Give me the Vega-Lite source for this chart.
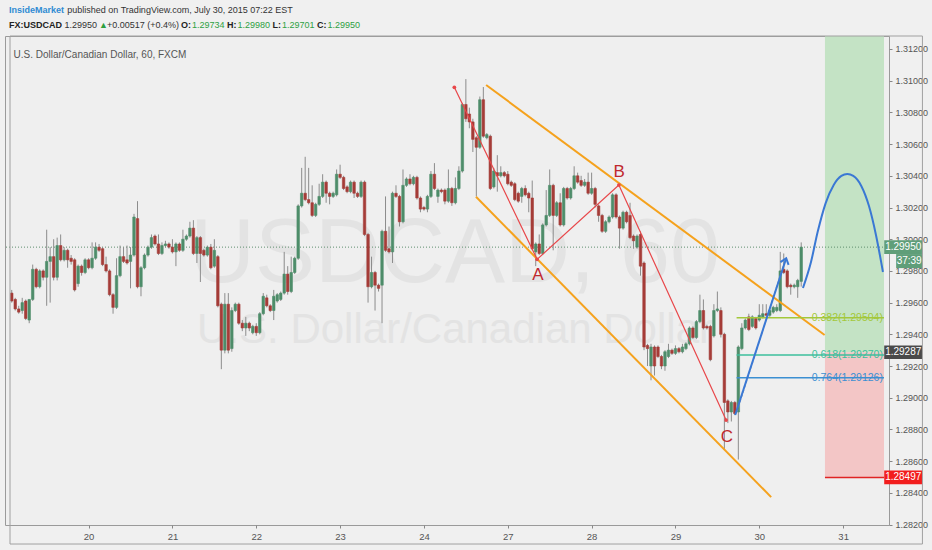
{
  "$schema": "https://vega.github.io/schema/vega-lite/v6.json",
  "description": "USDCAD 60 minute candles, July 17-30 2015, with channel, ABC swing, fib levels and projection",
  "width": 884,
  "height": 489,
  "autosize": {"type": "none"},
  "padding": {"left": 5, "top": 36, "right": 43, "bottom": 25},
  "background": "#f0f0f0",
  "config": {
    "view": {"stroke": "#9a9a9a", "fill": "#efefef"},
    "text": {"font": "Liberation Sans"}
  },
  "data": {"values": [{}]},
  "datasets": {
    "candles": [
      {"i":-22,"o":1.2966,"h":1.2968,"l":1.2960,"c":1.2961},
      {"i":-21,"o":1.2962,"h":1.2963,"l":1.2955,"c":1.2956},
      {"i":-20,"o":1.2956,"h":1.2958,"l":1.2953,"c":1.2954},
      {"i":-19,"o":1.2955,"h":1.2963,"l":1.2953,"c":1.2960},
      {"i":-18,"o":1.2961,"h":1.2962,"l":1.2949,"c":1.2950},
      {"i":-17,"o":1.2949,"h":1.2962,"l":1.2947,"c":1.2962},
      {"i":-16,"o":1.2962,"h":1.2984,"l":1.2961,"c":1.2981},
      {"i":-15,"o":1.2981,"h":1.2982,"l":1.2969,"c":1.2970},
      {"i":-14,"o":1.2970,"h":1.2981,"l":1.2969,"c":1.2980},
      {"i":-13,"o":1.2980,"h":1.2981,"l":1.2974,"c":1.2976},
      {"i":-12,"o":1.2976,"h":1.3006,"l":1.2958,"c":1.2986},
      {"i":-11,"o":1.2986,"h":1.2995,"l":1.2960,"c":1.2989},
      {"i":-10,"o":1.2989,"h":1.3000,"l":1.2974,"c":1.2976},
      {"i":-9,"o":1.2976,"h":1.3001,"l":1.2974,"c":1.2996},
      {"i":-8,"o":1.2996,"h":1.3003,"l":1.2986,"c":1.2987},
      {"i":-7,"o":1.2987,"h":1.2995,"l":1.2986,"c":1.2993},
      {"i":-6,"o":1.2993,"h":1.2994,"l":1.2982,"c":1.2987},
      {"i":-5,"o":1.2988,"h":1.2990,"l":1.2984,"c":1.2986},
      {"i":-4,"o":1.2987,"h":1.2988,"l":1.2967,"c":1.2968},
      {"i":-3,"o":1.2972,"h":1.2984,"l":1.2970,"c":1.2983},
      {"i":-2,"o":1.2983,"h":1.2984,"l":1.2977,"c":1.2979},
      {"i":-1,"o":1.2979,"h":1.2988,"l":1.2978,"c":1.2987},
      {"i":0,"o":1.2987,"h":1.2988,"l":1.2981,"c":1.2982},
      {"i":1,"o":1.2982,"h":1.2998,"l":1.2981,"c":1.2988},
      {"i":2,"o":1.2988,"h":1.2998,"l":1.2987,"c":1.2995},
      {"i":3,"o":1.2995,"h":1.2997,"l":1.2992,"c":1.2993},
      {"i":4,"o":1.2994,"h":1.2995,"l":1.2983,"c":1.2984},
      {"i":5,"o":1.2984,"h":1.2989,"l":1.2979,"c":1.2980},
      {"i":6,"o":1.2980,"h":1.2981,"l":1.2964,"c":1.2965},
      {"i":7,"o":1.2965,"h":1.2966,"l":1.2953,"c":1.2957},
      {"i":8,"o":1.2957,"h":1.2988,"l":1.2956,"c":1.2977},
      {"i":9,"o":1.2977,"h":1.2996,"l":1.2976,"c":1.2989},
      {"i":10,"o":1.2989,"h":1.2995,"l":1.2985,"c":1.2986},
      {"i":11,"o":1.2987,"h":1.2996,"l":1.2984,"c":1.2985},
      {"i":12,"o":1.2986,"h":1.2995,"l":1.2969,"c":1.2990},
      {"i":13,"o":1.2990,"h":1.3016,"l":1.2989,"c":1.3014},
      {"i":14,"o":1.3013,"h":1.3024,"l":1.2969,"c":1.2970},
      {"i":15,"o":1.2970,"h":1.2983,"l":1.2964,"c":1.2982},
      {"i":16,"o":1.2982,"h":1.2991,"l":1.2981,"c":1.2990},
      {"i":17,"o":1.2990,"h":1.2996,"l":1.2989,"c":1.2995},
      {"i":18,"o":1.2995,"h":1.3003,"l":1.2994,"c":1.3001},
      {"i":19,"o":1.3002,"h":1.3003,"l":1.2996,"c":1.2997},
      {"i":20,"o":1.2997,"h":1.3003,"l":1.2990,"c":1.2991},
      {"i":21,"o":1.2991,"h":1.2998,"l":1.2990,"c":1.2996},
      {"i":22,"o":1.2996,"h":1.2999,"l":1.2995,"c":1.2997},
      {"i":23,"o":1.2997,"h":1.2998,"l":1.2994,"c":1.2995},
      {"i":24,"o":1.2995,"h":1.3000,"l":1.2991,"c":1.2992},
      {"i":25,"o":1.2992,"h":1.2998,"l":1.2983,"c":1.2997},
      {"i":26,"o":1.2997,"h":1.2998,"l":1.2992,"c":1.2993},
      {"i":27,"o":1.2993,"h":1.3006,"l":1.2992,"c":1.3000},
      {"i":28,"o":1.3000,"h":1.3003,"l":1.2999,"c":1.3002},
      {"i":29,"o":1.3002,"h":1.3011,"l":1.3001,"c":1.3007},
      {"i":30,"o":1.3007,"h":1.3012,"l":1.2990,"c":1.2991},
      {"i":31,"o":1.2991,"h":1.3002,"l":1.2985,"c":1.3001},
      {"i":32,"o":1.3001,"h":1.3002,"l":1.2973,"c":1.2991},
      {"i":33,"o":1.2993,"h":1.2994,"l":1.2989,"c":1.2990},
      {"i":34,"o":1.2990,"h":1.2996,"l":1.2989,"c":1.2995},
      {"i":35,"o":1.2995,"h":1.2997,"l":1.2981,"c":1.2982},
      {"i":36,"o":1.2983,"h":1.3000,"l":1.2982,"c":1.2993},
      {"i":37,"o":1.2989,"h":1.2990,"l":1.2957,"c":1.2958},
      {"i":38,"o":1.2959,"h":1.2960,"l":1.2918,"c":1.2930},
      {"i":39,"o":1.2930,"h":1.2966,"l":1.2928,"c":1.2959},
      {"i":40,"o":1.2959,"h":1.2966,"l":1.2928,"c":1.2930},
      {"i":41,"o":1.2931,"h":1.2957,"l":1.2929,"c":1.2955},
      {"i":42,"o":1.2955,"h":1.2960,"l":1.2954,"c":1.2959},
      {"i":43,"o":1.2959,"h":1.2960,"l":1.2946,"c":1.2947},
      {"i":44,"o":1.2947,"h":1.2949,"l":1.2942,"c":1.2944},
      {"i":45,"o":1.2944,"h":1.2951,"l":1.2939,"c":1.2947},
      {"i":46,"o":1.2947,"h":1.2948,"l":1.2942,"c":1.2944},
      {"i":47,"o":1.2941,"h":1.2946,"l":1.2940,"c":1.2945},
      {"i":48,"o":1.2945,"h":1.2947,"l":1.2939,"c":1.2941},
      {"i":49,"o":1.2941,"h":1.2954,"l":1.2940,"c":1.2953},
      {"i":50,"o":1.2953,"h":1.2966,"l":1.2952,"c":1.2964},
      {"i":51,"o":1.2963,"h":1.2965,"l":1.2957,"c":1.2958},
      {"i":52,"o":1.2958,"h":1.2959,"l":1.2954,"c":1.2955},
      {"i":53,"o":1.2955,"h":1.2968,"l":1.2949,"c":1.2964},
      {"i":54,"o":1.2961,"h":1.2966,"l":1.2960,"c":1.2965},
      {"i":55,"o":1.2962,"h":1.2967,"l":1.2961,"c":1.2966},
      {"i":56,"o":1.2966,"h":1.2992,"l":1.2965,"c":1.2978},
      {"i":57,"o":1.2978,"h":1.2983,"l":1.2965,"c":1.2967},
      {"i":58,"o":1.2967,"h":1.2989,"l":1.2966,"c":1.2979},
      {"i":59,"o":1.2979,"h":1.2989,"l":1.2978,"c":1.2988},
      {"i":60,"o":1.2988,"h":1.3022,"l":1.2987,"c":1.3021},
      {"i":61,"o":1.3021,"h":1.3045,"l":1.3020,"c":1.3029},
      {"i":62,"o":1.3029,"h":1.3052,"l":1.3024,"c":1.3025},
      {"i":63,"o":1.3025,"h":1.3045,"l":1.3022,"c":1.3023},
      {"i":64,"o":1.3023,"h":1.3034,"l":1.3014,"c":1.3015},
      {"i":65,"o":1.3015,"h":1.3023,"l":1.3014,"c":1.3022},
      {"i":66,"o":1.3022,"h":1.3035,"l":1.3021,"c":1.3027},
      {"i":67,"o":1.3027,"h":1.3041,"l":1.3026,"c":1.3036},
      {"i":68,"o":1.3036,"h":1.3037,"l":1.3023,"c":1.3029},
      {"i":69,"o":1.3029,"h":1.3030,"l":1.3022,"c":1.3027},
      {"i":70,"o":1.3027,"h":1.3030,"l":1.3026,"c":1.3029},
      {"i":71,"o":1.3028,"h":1.3044,"l":1.3027,"c":1.3041},
      {"i":72,"o":1.3041,"h":1.3047,"l":1.3038,"c":1.3039},
      {"i":73,"o":1.3039,"h":1.3040,"l":1.3031,"c":1.3032},
      {"i":74,"o":1.3033,"h":1.3034,"l":1.3029,"c":1.3030},
      {"i":75,"o":1.3030,"h":1.3037,"l":1.3029,"c":1.3036},
      {"i":76,"o":1.3036,"h":1.3037,"l":1.3026,"c":1.3029},
      {"i":77,"o":1.3029,"h":1.3030,"l":1.3026,"c":1.3027},
      {"i":78,"o":1.3027,"h":1.3037,"l":1.3026,"c":1.3036},
      {"i":79,"o":1.3036,"h":1.3037,"l":1.3002,"c":1.3003},
      {"i":80,"o":1.3003,"h":1.3004,"l":1.2960,"c":1.2970},
      {"i":81,"o":1.2970,"h":1.2989,"l":1.2969,"c":1.2979},
      {"i":82,"o":1.2979,"h":1.2980,"l":1.2955,"c":1.2971},
      {"i":83,"o":1.2971,"h":1.2972,"l":1.2967,"c":1.2969},
      {"i":84,"o":1.2971,"h":1.3006,"l":1.2947,"c":1.3005},
      {"i":85,"o":1.3005,"h":1.3027,"l":1.2992,"c":1.2993},
      {"i":86,"o":1.2994,"h":1.3008,"l":1.2991,"c":1.2992},
      {"i":87,"o":1.2992,"h":1.3030,"l":1.2985,"c":1.3029},
      {"i":88,"o":1.3029,"h":1.3034,"l":1.3026,"c":1.3027},
      {"i":89,"o":1.3027,"h":1.3028,"l":1.3008,"c":1.3011},
      {"i":90,"o":1.3011,"h":1.3044,"l":1.3010,"c":1.3034},
      {"i":91,"o":1.3034,"h":1.3039,"l":1.3033,"c":1.3038},
      {"i":92,"o":1.3038,"h":1.3041,"l":1.3034,"c":1.3035},
      {"i":93,"o":1.3035,"h":1.3040,"l":1.3034,"c":1.3039},
      {"i":94,"o":1.3039,"h":1.3040,"l":1.3025,"c":1.3026},
      {"i":95,"o":1.3026,"h":1.3027,"l":1.3017,"c":1.3019},
      {"i":96,"o":1.3020,"h":1.3021,"l":1.3018,"c":1.3019},
      {"i":97,"o":1.3019,"h":1.3028,"l":1.3017,"c":1.3027},
      {"i":98,"o":1.3027,"h":1.3043,"l":1.3026,"c":1.3041},
      {"i":99,"o":1.3041,"h":1.3048,"l":1.3031,"c":1.3032},
      {"i":100,"o":1.3027,"h":1.3032,"l":1.3023,"c":1.3031},
      {"i":101,"o":1.3031,"h":1.3032,"l":1.3029,"c":1.3030},
      {"i":102,"o":1.3031,"h":1.3032,"l":1.3022,"c":1.3024},
      {"i":103,"o":1.3024,"h":1.3044,"l":1.3023,"c":1.3032},
      {"i":104,"o":1.3032,"h":1.3033,"l":1.3021,"c":1.3023},
      {"i":105,"o":1.3023,"h":1.3039,"l":1.3022,"c":1.3032},
      {"i":106,"o":1.3032,"h":1.3046,"l":1.3031,"c":1.3043},
      {"i":107,"o":1.3043,"h":1.3086,"l":1.3042,"c":1.3085},
      {"i":108,"o":1.3085,"h":1.3101,"l":1.3074,"c":1.3076},
      {"i":109,"o":1.3079,"h":1.3083,"l":1.3070,"c":1.3074},
      {"i":110,"o":1.3074,"h":1.3076,"l":1.3055,"c":1.3063},
      {"i":111,"o":1.3064,"h":1.3065,"l":1.3027,"c":1.3058},
      {"i":112,"o":1.3058,"h":1.3090,"l":1.3057,"c":1.3088},
      {"i":113,"o":1.3088,"h":1.3096,"l":1.3064,"c":1.3065},
      {"i":114,"o":1.3064,"h":1.3067,"l":1.3063,"c":1.3066},
      {"i":115,"o":1.3065,"h":1.3066,"l":1.3031,"c":1.3032},
      {"i":116,"o":1.3033,"h":1.3045,"l":1.3032,"c":1.3043},
      {"i":117,"o":1.3042,"h":1.3053,"l":1.3030,"c":1.3040},
      {"i":118,"o":1.3040,"h":1.3046,"l":1.3039,"c":1.3042},
      {"i":119,"o":1.3042,"h":1.3043,"l":1.3039,"c":1.3040},
      {"i":120,"o":1.3041,"h":1.3043,"l":1.3034,"c":1.3035},
      {"i":121,"o":1.3036,"h":1.3037,"l":1.3033,"c":1.3034},
      {"i":122,"o":1.3035,"h":1.3036,"l":1.3024,"c":1.3025},
      {"i":123,"o":1.3029,"h":1.3030,"l":1.3023,"c":1.3024},
      {"i":124,"o":1.3027,"h":1.3033,"l":1.3023,"c":1.3032},
      {"i":125,"o":1.3032,"h":1.3034,"l":1.3027,"c":1.3028},
      {"i":126,"o":1.3029,"h":1.3030,"l":1.3017,"c":1.3026},
      {"i":127,"o":1.3026,"h":1.3037,"l":1.2993,"c":1.2994},
      {"i":128,"o":1.2992,"h":1.2998,"l":1.2983,"c":1.2997},
      {"i":129,"o":1.2997,"h":1.3003,"l":1.2990,"c":1.2991},
      {"i":130,"o":1.2991,"h":1.3010,"l":1.2990,"c":1.3009},
      {"i":131,"o":1.3009,"h":1.3031,"l":1.3008,"c":1.3015},
      {"i":132,"o":1.3015,"h":1.3044,"l":1.3014,"c":1.3034},
      {"i":133,"o":1.3034,"h":1.3035,"l":1.2993,"c":1.3015},
      {"i":134,"o":1.3015,"h":1.3024,"l":1.3014,"c":1.3023},
      {"i":135,"o":1.3023,"h":1.3029,"l":1.3008,"c":1.3009},
      {"i":136,"o":1.3009,"h":1.3033,"l":1.3008,"c":1.3032},
      {"i":137,"o":1.3032,"h":1.3033,"l":1.3025,"c":1.3026},
      {"i":138,"o":1.3026,"h":1.3033,"l":1.3025,"c":1.3032},
      {"i":139,"o":1.3032,"h":1.3046,"l":1.3031,"c":1.3040},
      {"i":140,"o":1.3040,"h":1.3042,"l":1.3035,"c":1.3036},
      {"i":141,"o":1.3037,"h":1.3040,"l":1.3033,"c":1.3034},
      {"i":142,"o":1.3034,"h":1.3038,"l":1.3033,"c":1.3036},
      {"i":143,"o":1.3036,"h":1.3042,"l":1.3028,"c":1.3029},
      {"i":144,"o":1.3029,"h":1.3042,"l":1.3028,"c":1.3032},
      {"i":145,"o":1.3032,"h":1.3033,"l":1.3020,"c":1.3022},
      {"i":146,"o":1.3021,"h":1.3022,"l":1.3011,"c":1.3015},
      {"i":147,"o":1.3015,"h":1.3016,"l":1.3004,"c":1.3005},
      {"i":148,"o":1.3005,"h":1.3012,"l":1.3004,"c":1.3011},
      {"i":149,"o":1.3011,"h":1.3015,"l":1.3010,"c":1.3014},
      {"i":150,"o":1.3014,"h":1.3029,"l":1.3013,"c":1.3028},
      {"i":151,"o":1.3028,"h":1.3029,"l":1.3013,"c":1.3014},
      {"i":152,"o":1.3014,"h":1.3015,"l":1.2994,"c":1.3007},
      {"i":153,"o":1.3007,"h":1.3018,"l":1.3006,"c":1.3017},
      {"i":154,"o":1.3017,"h":1.3018,"l":1.3010,"c":1.3011},
      {"i":155,"o":1.3015,"h":1.3023,"l":1.3000,"c":1.3001},
      {"i":156,"o":1.3002,"h":1.3003,"l":1.2994,"c":1.2999},
      {"i":157,"o":1.2995,"h":1.3003,"l":1.2994,"c":1.3002},
      {"i":158,"o":1.3003,"h":1.3005,"l":1.2977,"c":1.2983},
      {"i":159,"o":1.2985,"h":1.2986,"l":1.2930,"c":1.2932},
      {"i":160,"o":1.2933,"h":1.2934,"l":1.2920,"c":1.2931},
      {"i":161,"o":1.2920,"h":1.2934,"l":1.2911,"c":1.2932},
      {"i":162,"o":1.2932,"h":1.2933,"l":1.2914,"c":1.2920},
      {"i":163,"o":1.2932,"h":1.2933,"l":1.2925,"c":1.2926},
      {"i":164,"o":1.2926,"h":1.2927,"l":1.2918,"c":1.2920},
      {"i":165,"o":1.2920,"h":1.2930,"l":1.2917,"c":1.2929},
      {"i":166,"o":1.2926,"h":1.2934,"l":1.2925,"c":1.2930},
      {"i":167,"o":1.2930,"h":1.2931,"l":1.2927,"c":1.2928},
      {"i":168,"o":1.2928,"h":1.2933,"l":1.2927,"c":1.2931},
      {"i":169,"o":1.2931,"h":1.2932,"l":1.2928,"c":1.2929},
      {"i":170,"o":1.2929,"h":1.2934,"l":1.2928,"c":1.2932},
      {"i":171,"o":1.2931,"h":1.2935,"l":1.2930,"c":1.2934},
      {"i":172,"o":1.2934,"h":1.2945,"l":1.2933,"c":1.2944},
      {"i":173,"o":1.2944,"h":1.2945,"l":1.2937,"c":1.2938},
      {"i":174,"o":1.2938,"h":1.2949,"l":1.2937,"c":1.2948},
      {"i":175,"o":1.2948,"h":1.2965,"l":1.2947,"c":1.2955},
      {"i":176,"o":1.2955,"h":1.2962,"l":1.2943,"c":1.2944},
      {"i":177,"o":1.2945,"h":1.2946,"l":1.2943,"c":1.2944},
      {"i":178,"o":1.2945,"h":1.2946,"l":1.2923,"c":1.2924},
      {"i":179,"o":1.2939,"h":1.2959,"l":1.2938,"c":1.2955},
      {"i":180,"o":1.2955,"h":1.2967,"l":1.2954,"c":1.2956},
      {"i":181,"o":1.2955,"h":1.2957,"l":1.2938,"c":1.2940},
      {"i":182,"o":1.2940,"h":1.2941,"l":1.2867,"c":1.2897},
      {"i":183,"o":1.2898,"h":1.2899,"l":1.2884,"c":1.2891},
      {"i":184,"o":1.2891,"h":1.2898,"l":1.2885,"c":1.2897},
      {"i":185,"o":1.2897,"h":1.2898,"l":1.2889,"c":1.2890},
      {"i":186,"o":1.2891,"h":1.2933,"l":1.2861,"c":1.2932},
      {"i":187,"o":1.2931,"h":1.2947,"l":1.2930,"c":1.2944},
      {"i":188,"o":1.2944,"h":1.2950,"l":1.2943,"c":1.2949},
      {"i":189,"o":1.2951,"h":1.2953,"l":1.2942,"c":1.2943},
      {"i":190,"o":1.2945,"h":1.2952,"l":1.2944,"c":1.2951},
      {"i":191,"o":1.2950,"h":1.2951,"l":1.2943,"c":1.2944},
      {"i":192,"o":1.2949,"h":1.2959,"l":1.2948,"c":1.2952},
      {"i":193,"o":1.2951,"h":1.2959,"l":1.2950,"c":1.2953},
      {"i":194,"o":1.2953,"h":1.2959,"l":1.2951,"c":1.2952},
      {"i":195,"o":1.2952,"h":1.2957,"l":1.2951,"c":1.2955},
      {"i":196,"o":1.2954,"h":1.2958,"l":1.2953,"c":1.2957},
      {"i":197,"o":1.2955,"h":1.2959,"l":1.2954,"c":1.2957},
      {"i":198,"o":1.2955,"h":1.2992,"l":1.2954,"c":1.2980},
      {"i":199,"o":1.2981,"h":1.2991,"l":1.2978,"c":1.2979},
      {"i":200,"o":1.2980,"h":1.2981,"l":1.2969,"c":1.2970},
      {"i":201,"o":1.2971,"h":1.2972,"l":1.2965,"c":1.2970},
      {"i":202,"o":1.2970,"h":1.2972,"l":1.2969,"c":1.2971},
      {"i":203,"o":1.2970,"h":1.2975,"l":1.2963,"c":1.2974},
      {"i":204,"o":1.29734,"h":1.2998,"l":1.29701,"c":1.2995}
    ],
    "channel": [
      {"x1":113.8,"p1":1.30973,"x2":210.7,"p2":1.29396},
      {"x1":110.9,"p1":1.30268,"x2":195.4,"p2":1.28373}
    ],
    "abc": [
      {"i":104.7,"p":1.30958},
      {"i":128.4,"p":1.29873},
      {"i":151.8,"p":1.30342},
      {"i":182.5,"p":1.28859}
    ],
    "abcLabels": [
      {"t":"A","i":128.6,"p":1.29774},
      {"t":"B","i":151.9,"p":1.30424},
      {"t":"C","i":182.7,"p":1.28752}
    ],
    "fib": [
      {"lvl":"0.382","p":1.29504,"label":"0.382(1.29504)"},
      {"lvl":"0.618","p":1.2927,"label":"0.618(1.29270)"},
      {"lvl":"0.764","p":1.29126,"label":"0.764(1.29126)"}
    ],
    "arrow": [
      {"i":185.1,"p":1.28891},
      {"i":199.7,"p":1.2988}
    ],
    "guide": [
      {"i":185.6,"p":1.2891},
      {"i":199.2,"p":1.29856}
    ],
    "projection": [
      {"i":204.5,"p":1.29692},
      {"i":206.8,"p":1.29856},
      {"i":208.7,"p":1.30045},
      {"i":211.0,"p":1.30228},
      {"i":213.3,"p":1.30342},
      {"i":215.5,"p":1.30399},
      {"i":217.2,"p":1.30411},
      {"i":218.9,"p":1.30399},
      {"i":221.2,"p":1.30336},
      {"i":223.4,"p":1.30209},
      {"i":225.4,"p":1.30027},
      {"i":227.4,"p":1.29793}
    ],
    "tags": [
      {"t":"1.29950","p":1.2995,"kind":"last"},
      {"t":"1.29287","p":1.29287,"kind":"entry"},
      {"t":"1.28497","p":1.28497,"kind":"stop"}
    ]
  },
  "layer": [
    {
      "mark": {"type": "text", "fontSize": 90, "color": "#e3e3e3", "align": "center", "baseline": "middle"},
      "encoding": {
        "x": {"datum": 104.9, "scale": {"domain": [-22.5, 227.7], "nice": false, "zero": false}},
        "y": {"datum": 1.299, "scale": {"domain": [1.28197, 1.31282], "nice": false, "zero": false}},
        "text": {"value": "USDCAD, 60"}
      }
    },
    {
      "mark": {"type": "text", "fontSize": 42, "color": "#e3e3e3", "align": "center", "baseline": "middle"},
      "encoding": {"x": {"datum": 104.9}, "y": {"datum": 1.29427}, "text": {"value": "U.S. Dollar/Canadian Dollar"}}
    },
    {
      "mark": {"type": "rect", "color": "#c4e3c5"},
      "encoding": {"x": {"datum": 210.8}, "x2": {"datum": 227.7}, "y": {"datum": 1.31282}, "y2": {"datum": 1.29287}}
    },
    {
      "mark": {"type": "rect", "color": "#f3c6c6"},
      "encoding": {"x": {"datum": 210.8}, "x2": {"datum": 227.7}, "y": {"datum": 1.29287}, "y2": {"datum": 1.28497}}
    },
    {
      "mark": {"type": "rule", "color": "#5f8f6f", "strokeDash": [1, 2], "strokeWidth": 1},
      "encoding": {"y": {"datum": 1.2995}}
    },
    {
      "data": {"name": "candles"},
      "mark": {"type": "rule", "color": "#8c8c8c", "strokeWidth": 1},
      "encoding": {
        "x": {
          "field": "i", "type": "quantitative",
          "scale": {"domain": [-22.5, 227.7], "nice": false, "zero": false},
          "axis": {
            "orient": "bottom", "title": null, "grid": false, "domain": false,
            "values": [0, 24, 48, 72, 96, 120, 144, 168, 192, 216], "tickCount": 40,
            "labelExpr": "['20','21','22','23','24','27','28','29','30','31'][round(datum.value / 24)]",
            "tickSize": 3, "tickColor": "#888", "labelColor": "#555",
            "labelFont": "Liberation Sans", "labelFontSize": 9.5, "labelPadding": 3
          }
        },
        "y": {
          "field": "l", "type": "quantitative",
          "scale": {"domain": [1.28197, 1.31282], "nice": false, "zero": false},
          "axis": {
            "orient": "right", "title": null, "grid": false, "domain": false,
            "values": [1.282, 1.284, 1.286, 1.288, 1.29, 1.292, 1.294, 1.296, 1.298, 1.3, 1.302, 1.304, 1.306, 1.308, 1.31, 1.312],
            "tickCount": 40,
            "format": ".5f", "tickSize": 3, "tickColor": "#888", "labelColor": "#555",
            "labelFont": "Liberation Sans", "labelFontSize": 9, "labelPadding": 3, "labelOverlap": false
          }
        },
        "y2": {"field": "h"}
      }
    },
    {
      "data": {"name": "candles"},
      "mark": {"type": "bar", "size": 2.5, "strokeWidth": 0.6},
      "encoding": {
        "x": {"field": "i", "type": "quantitative"},
        "y": {"field": "o", "type": "quantitative"},
        "y2": {"field": "c"},
        "fill": {"condition": {"test": "datum.c >= datum.o", "value": "#4e8d6a"}, "value": "#a53c38"},
        "stroke": {"condition": {"test": "datum.c >= datum.o", "value": "#4e8d6a"}, "value": "#a53c38"}
      }
    },
    {
      "data": {"name": "channel"},
      "mark": {"type": "rule", "color": "#f5a21d", "strokeWidth": 2},
      "encoding": {
        "x": {"field": "x1", "type": "quantitative"},
        "y": {"field": "p1", "type": "quantitative"},
        "x2": {"field": "x2"},
        "y2": {"field": "p2"}
      }
    },
    {
      "data": {"name": "abc"},
      "mark": {"type": "line", "color": "#e8474a", "strokeWidth": 1.2},
      "encoding": {"x": {"field": "i", "type": "quantitative"}, "y": {"field": "p", "type": "quantitative"}}
    },
    {
      "data": {"name": "abc"},
      "mark": {"type": "point", "filled": true, "color": "#e8474a", "size": 14, "opacity": 1},
      "encoding": {"x": {"field": "i", "type": "quantitative"}, "y": {"field": "p", "type": "quantitative"}}
    },
    {
      "data": {"name": "abcLabels"},
      "mark": {"type": "text", "fontSize": 17, "color": "#c0282d", "align": "center", "baseline": "middle"},
      "encoding": {"x": {"field": "i", "type": "quantitative"}, "y": {"field": "p", "type": "quantitative"}, "text": {"field": "t"}}
    },
    {
      "data": {"name": "fib"},
      "mark": {"type": "rule", "strokeWidth": 1.5},
      "encoding": {
        "x": {"datum": 185.5}, "x2": {"datum": 227.7},
        "y": {"field": "p", "type": "quantitative"},
        "color": {"field": "lvl", "type": "nominal", "legend": null, "scale": {"domain": ["0.382", "0.618", "0.764"], "range": ["#a3c83a", "#3dbf9c", "#3b8fd2"]}}
      }
    },
    {
      "data": {"name": "fib"},
      "mark": {"type": "text", "fontSize": 10.5, "align": "right", "baseline": "middle"},
      "encoding": {
        "x": {"datum": 227.4},
        "y": {"field": "p", "type": "quantitative"},
        "text": {"field": "label"},
        "color": {"field": "lvl", "type": "nominal", "legend": null}
      }
    },
    {
      "data": {"name": "guide"},
      "mark": {"type": "line", "color": "#8096b8", "strokeWidth": 1, "strokeDash": [3, 2]},
      "encoding": {"x": {"field": "i", "type": "quantitative"}, "y": {"field": "p", "type": "quantitative"}}
    },
    {
      "data": {"name": "arrow"},
      "mark": {"type": "line", "color": "#3a78d4", "strokeWidth": 2},
      "encoding": {"x": {"field": "i", "type": "quantitative"}, "y": {"field": "p", "type": "quantitative"}}
    },
    {
      "mark": {"type": "point", "shape": "M-0.7,0.9L0,0L0.7,0.9", "filled": false, "color": "#3a78d4", "strokeWidth": 2, "size": 150, "angle": 18, "opacity": 1},
      "encoding": {"x": {"datum": 199.7}, "y": {"datum": 1.2988}}
    },
    {
      "data": {"name": "projection"},
      "mark": {"type": "line", "color": "#3a78d4", "strokeWidth": 2, "interpolate": "monotone"},
      "encoding": {"x": {"field": "i", "type": "quantitative"}, "y": {"field": "p", "type": "quantitative"}}
    },
    {
      "mark": {"type": "rule", "color": "#e02424", "strokeWidth": 1.5},
      "encoding": {"x": {"datum": 210.8}, "x2": {"datum": 227.7}, "y": {"datum": 1.28497}}
    },
    {
      "data": {"name": "tags"},
      "mark": {"type": "point", "shape": "M-1,-0.36L1,-0.36L1,0.36L-1,0.36Z", "filled": true, "size": 1444, "opacity": 1},
      "encoding": {
        "x": {"datum": 233.2},
        "y": {"field": "p", "type": "quantitative"},
        "fill": {"field": "kind", "type": "nominal", "legend": null, "scale": {"domain": ["last", "entry", "stop"], "range": ["#5f9e79", "#4a4a4a", "#f21d1d"]}}
      }
    },
    {
      "data": {"name": "tags"},
      "mark": {"type": "text", "fontSize": 10, "color": "white", "align": "center", "baseline": "middle"},
      "encoding": {"x": {"datum": 233.2}, "y": {"field": "p", "type": "quantitative"}, "text": {"field": "t"}}
    },
    {
      "mark": {"type": "point", "shape": "M-1,-0.54L1,-0.54L1,0.54L-1,0.54Z", "filled": true, "size": 676, "color": "#5f9e79", "opacity": 1},
      "encoding": {"x": {"datum": 234.9}, "y": {"datum": 1.29862}}
    },
    {
      "mark": {"type": "text", "fontSize": 10, "color": "white", "align": "center", "baseline": "middle"},
      "encoding": {"x": {"datum": 234.9}, "y": {"datum": 1.29862}, "text": {"value": "37:39"}}
    },
    {
      "mark": {"type": "rect", "filled": false, "stroke": "#a0a0a0", "strokeWidth": 1},
      "encoding": {"x": {"datum": -22.5}, "x2": {"datum": 238.7}, "y": {"datum": 1.31282}, "y2": {"datum": 1.28077}}
    },
    {
      "mark": {"type": "text", "fontSize": 10, "color": "#555", "align": "left", "baseline": "middle"},
      "encoding": {"x": {"datum": -21.5}, "y": {"datum": 1.31162}, "text": {"value": "U.S. Dollar/Canadian Dollar, 60, FXCM"}}
    },
    {
      "mark": {"type": "text", "fontSize": 9, "color": "#2f8bd3", "fontWeight": "bold", "align": "left", "baseline": "middle"},
      "encoding": {"x": {"datum": -22.78}, "y": {"datum": 1.31446}, "text": {"value": "InsideMarket"}}
    },
    {
      "mark": {"type": "text", "fontSize": 9, "color": "#333", "align": "left", "baseline": "middle"},
      "encoding": {"x": {"datum": -6.09}, "y": {"datum": 1.31446}, "text": {"value": "published on TradingView.com, July 30, 2015 07:22 EST"}}
    },
    {
      "mark": {"type": "text", "fontSize": 9, "color": "#222", "fontWeight": "bold", "align": "left", "baseline": "middle"},
      "encoding": {"x": {"datum": -22.78}, "y": {"datum": 1.31351}, "text": {"value": "FX:USDCAD"}}
    },
    {
      "mark": {"type": "text", "fontSize": 9, "color": "#333", "align": "left", "baseline": "middle"},
      "encoding": {"x": {"datum": -6.93}, "y": {"datum": 1.31351}, "text": {"value": "1.29950"}}
    },
    {
      "mark": {"type": "text", "fontSize": 9, "color": "#2e9e3e", "align": "left", "baseline": "middle"},
      "encoding": {"x": {"datum": 2.97}, "y": {"datum": 1.31351}, "text": {"value": "▲"}}
    },
    {
      "mark": {"type": "text", "fontSize": 9, "color": "#333", "align": "left", "baseline": "middle"},
      "encoding": {"x": {"datum": 5.24}, "y": {"datum": 1.31351}, "text": {"value": "+0.00517 (+0.4%)"}}
    },
    {
      "mark": {"type": "text", "fontSize": 9, "color": "#222", "fontWeight": "bold", "align": "left", "baseline": "middle"},
      "encoding": {"x": {"datum": 26.46}, "y": {"datum": 1.31351}, "text": {"value": "O:"}}
    },
    {
      "mark": {"type": "text", "fontSize": 9, "color": "#2ea043", "align": "left", "baseline": "middle"},
      "encoding": {"x": {"datum": 29.58}, "y": {"datum": 1.31351}, "text": {"value": "1.29734"}}
    },
    {
      "mark": {"type": "text", "fontSize": 9, "color": "#222", "fontWeight": "bold", "align": "left", "baseline": "middle"},
      "encoding": {"x": {"datum": 39.63}, "y": {"datum": 1.31351}, "text": {"value": "H:"}}
    },
    {
      "mark": {"type": "text", "fontSize": 9, "color": "#2ea043", "align": "left", "baseline": "middle"},
      "encoding": {"x": {"datum": 42.6}, "y": {"datum": 1.31351}, "text": {"value": "1.29980"}}
    },
    {
      "mark": {"type": "text", "fontSize": 9, "color": "#222", "fontWeight": "bold", "align": "left", "baseline": "middle"},
      "encoding": {"x": {"datum": 52.65}, "y": {"datum": 1.31351}, "text": {"value": "L:"}}
    },
    {
      "mark": {"type": "text", "fontSize": 9, "color": "#2ea043", "align": "left", "baseline": "middle"},
      "encoding": {"x": {"datum": 55.34}, "y": {"datum": 1.31351}, "text": {"value": "1.29701"}}
    },
    {
      "mark": {"type": "text", "fontSize": 9, "color": "#222", "fontWeight": "bold", "align": "left", "baseline": "middle"},
      "encoding": {"x": {"datum": 65.38}, "y": {"datum": 1.31351}, "text": {"value": "C:"}}
    },
    {
      "mark": {"type": "text", "fontSize": 9, "color": "#2ea043", "align": "left", "baseline": "middle"},
      "encoding": {"x": {"datum": 68.36}, "y": {"datum": 1.31351}, "text": {"value": "1.29950"}}
    }
  ]
}
